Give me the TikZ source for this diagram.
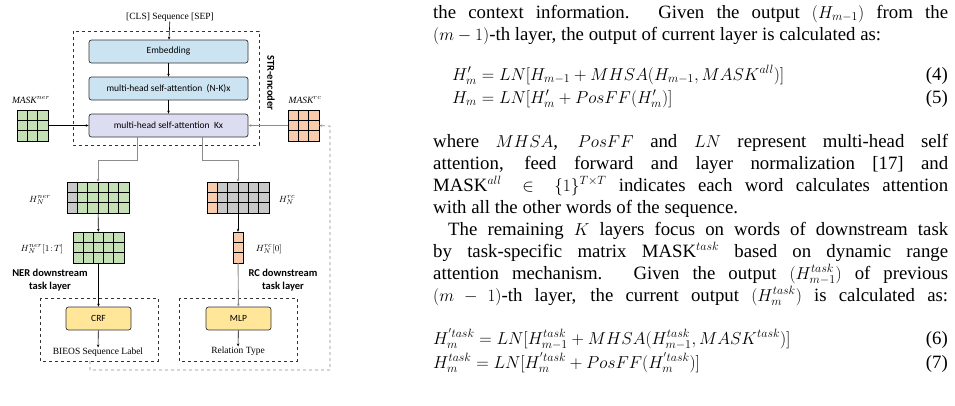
\documentclass[tikz,border=0pt]{standalone}
\usepackage{fontspec}
\setmainfont{Liberation Serif}
\newfontfamily\carl{Carlito}
\usetikzlibrary{arrows.meta}
\definecolor{bluef}{HTML}{CCE3F2}
\definecolor{lavf}{HTML}{DCDDF0}
\definecolor{grn}{HTML}{C5E0B4}
\definecolor{org}{HTML}{F8CBAD}
\definecolor{gry}{HTML}{C8C8C8}
\definecolor{yel}{HTML}{FFE699}
\newcommand\cellgrid[7]{% x0 y0 cols rows cellw cellh colorrule
  \foreach \i in {1,...,#3}{\foreach \j in {1,...,#4}{
    \pgfmathsetmacro\xa{#1+(\i-1)*#5}\pgfmathsetmacro\ya{#2+(\j-1)*#6}
    #7
    \draw[line width=0.8pt,fill=\cc] (\xa,\ya) rectangle ++(#5,#6);}}}
\begin{document}
\begin{tikzpicture}[x=1pt,y=-1pt,
  blk/.style={draw=black!80,rounded corners=2.5pt,line width=0.7pt,minimum width=159pt,minimum height=23pt,font=\carl\fontsize{9.5}{11}\selectfont,inner sep=0},
  ybox/.style={blk,fill=yel,minimum width=65pt},
  dbox/.style={draw=black!80,dashed,line width=0.8pt},
  arr/.style={-{Stealth[length=3pt,width=2.5pt]},line width=0.6pt},
  garr/.style={arr,draw=gray!90,line width=0.9pt},
  lbl/.style={font=\fontsize{9.5}{10}\selectfont,inner sep=0},
  bsans/.style={font=\carl\bfseries\fontsize{10.5}{12.5}\selectfont,align=center,inner sep=0},
  txt/.style={anchor=base west,inner sep=0,font=\fontsize{18.8}{20}\selectfont}]
\useasboundingbox (0,0) rectangle (955,405);
% encoder
\node[lbl] (inp) at (170,17) {[CLS] Sequence [SEP]};
\draw[dbox] (73,31) rectangle (259,145);
\node[bsans,rotate=-90] (str) at (271,83) {STR-encoder};
\node[blk,fill=bluef] (emb) at (168.5,51.5) {Embedding};
\node[blk,fill=bluef] (m1) at (168.5,88.5) {multi-head self-attention\ \ (N-K)x};
\node[blk,fill=lavf] (m2) at (168.5,125.5) {multi-head self-attention\ \ Kx};
\draw[arr] (inp) -- (emb);
\draw[arr] (emb) -- (m1);
\draw[arr] (m1) -- (m2);
% masks
\node[lbl] at (31,100) {$\mathit{MASK}^{ner}$};
\node[lbl] at (305,100) {$\mathit{MASK}^{rc}$};
\node[minimum width=31pt,minimum height=31pt,inner sep=0] (mn) at (32.5,125.5) {};
\node[minimum width=31pt,minimum height=31pt,inner sep=0] (mr) at (303.5,125.5) {};
\cellgrid{17}{110}{3}{3}{10.33}{10.33}{\def\cc{grn}}
\cellgrid{288}{110}{3}{3}{10.33}{10.33}{\def\cc{org}}
\draw[arr] (mn) -- (m2);
\draw[garr] (mr) -- (m2);
% H grids
\node[minimum width=62pt,minimum height=31pt,inner sep=0] (hn) at (98,197.5) {};
\node[minimum width=62pt,minimum height=31pt,inner sep=0] (hr) at (238,197.5) {};
\cellgrid{67}{182}{6}{3}{10.33}{10.33}{\ifnum\i=1 \def\cc{gry}\else\def\cc{grn}\fi}
\cellgrid{207}{182}{6}{3}{10.33}{10.33}{\ifnum\i=1 \def\cc{org}\else\def\cc{gry}\fi}
\node[lbl] at (40,200) {$H_N^{ner}$};
\node[lbl] at (287,200) {$H_N^{rc}$};
\draw[garr] (137,137) -- (137,160) -- (98,160) -- (hn.north);
\draw[garr] (202,137) -- (202,160) -- (238,160) -- (hr.north);
\node[minimum width=51pt,minimum height=31pt,inner sep=0] (hn2) at (98.5,247.5) {};
\node[minimum width=10pt,minimum height=31pt,inner sep=0] (hr2) at (238,247.5) {};
\cellgrid{73}{232}{5}{3}{10.2}{10.33}{\def\cc{grn}}
\cellgrid{233}{232}{1}{3}{10}{10.33}{\def\cc{org}}
\node[lbl] at (42,249) {$H_N^{ner}[1\!:\!T]$};
\node[lbl] at (269,249) {$H_N^{rc}[0]$};
\draw[arr] (hn) -- (hn2);
\draw[arr] (hr) -- (hr2);
\node[bsans] at (50,280) {NER downstream\\task layer};
\node[bsans] at (283,280) {RC downstream\\task layer};
% task layers
\draw[dbox] (40,298) rectangle (158,361);
\draw[dbox] (179,298) rectangle (297,361);
\node[ybox] (crf) at (98.5,318.5) {CRF};
\node[ybox] (mlp) at (238.5,318.5) {MLP};
\draw[arr] (hn2) -- (crf);
\draw[garr] (hr2) -- (mlp);
\node[lbl] (bieos) at (98,352) {BIEOS Sequence Label};
\node[lbl] (rel) at (238,351) {Relation Type};
\draw[arr] (crf) -- (bieos);
\draw[arr] (mlp) -- (rel);
\coordinate (fb) at (90,361);
\draw[garr,dashed,line width=0.7pt] (fb) -- (90,370) -- (330,370) -- (330,126) -- (mr.east);
% right text
\node[txt] at (433,18) {\hbox to 515pt{the context information. Given the output $(H_{m-1})$ from the}};
\node[txt] at (433,40) {\hbox to 515pt{$(m-1)$-th layer, the output of current layer is calculated as:\hfil}};
\node[txt] at (452,80) {$H'_m = LN[H_{m-1} + MHSA(H_{m-1},MASK^{all})]$};
\node[txt,anchor=base east] at (948,80) {(4)};
\node[txt] at (452,103) {$H_m = LN[H'_m + PosFF(H'_m)]$};
\node[txt,anchor=base east] at (948,103) {(5)};
\node[txt] at (433,147) {\hbox to 515pt{where $MHSA$, $PosFF$ and $LN$ represent multi-head self}};
\node[txt] at (433,169) {\hbox to 515pt{attention, feed forward and layer normalization [17] and}};
\node[txt] at (433,191) {\hbox to 515pt{MASK$^{all}\in\{1\}^{T\times T}$ indicates each word calculates attention}};
\node[txt] at (433,213) {\hbox to 515pt{with all the other words of the sequence.\hfil}};
\node[txt] at (448,235) {\hbox to 500pt{The remaining $K$ layers focus on words of downstream task}};
\node[txt] at (433,257) {\hbox to 515pt{by task-specific matrix MASK$^{task}$ based on dynamic range}};
\node[txt] at (433,279) {\hbox to 515pt{attention mechanism. Given the output $(H_{m-1}^{task})$ of previous}};
\node[txt] at (433,301) {\hbox to 515pt{$(m-1)$-th layer, the current output $(H_m^{task})$ is calculated as:}};
\node[txt] at (433,344) {$H_m^{'task} = LN[H_{m-1}^{task} + MHSA(H_{m-1}^{task},MASK^{task})]$};
\node[txt,anchor=base east] at (948,344) {(6)};
\node[txt] at (433,368) {$H_m^{task} = LN[H_m^{'task} + PosFF(H_m^{'task})]$};
\node[txt,anchor=base east] at (948,368) {(7)};
\end{tikzpicture}
\end{document}
